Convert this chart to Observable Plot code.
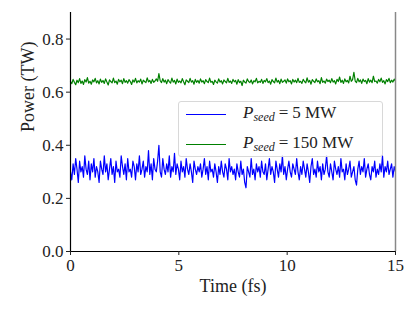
<!DOCTYPE html>
<html><head><meta charset="utf-8">
<script src="https://cdn.jsdelivr.net/npm/d3@7"></script>
<script src="https://cdn.jsdelivr.net/npm/@observablehq/plot@0.6"></script>
<style>
body{margin:0;background:#fff;}
#wrap{position:relative;width:415px;height:316px;font-family:"Liberation Serif",serif;}
#legend{position:absolute;left:178px;top:101px;width:205px;height:56px;box-sizing:border-box;border:1px solid #d8d8d8;border-radius:3px;background:rgba(255,255,255,0.8);font-size:17px;color:#222;}
.row{position:absolute;left:0;height:20px;display:flex;align-items:center;}
.sw{display:inline-block;width:40px;height:0;border-top:1px solid;margin-left:7px;margin-right:17px;}
sub{font-size:12px;vertical-align:-3px;}
.eq{margin:0 4px;}
</style></head>
<body><div id="wrap"><div id="plot"></div>
<div id="legend">
<div class="row" style="top:2px"><span class="sw" style="border-color:#0000ff"></span><span><i>P</i><sub><i>seed</i></sub><span class="eq">=</span>5 MW</span></div>
<div class="row" style="top:32px"><span class="sw" style="border-color:#008000"></span><span><i>P</i><sub><i>seed</i></sub><span class="eq">=</span>150 MW</span></div>
</div></div>
<script>
const timeStart = 0, timeStep = 0.06;
const xTicks = [0, 5, 10, 15];
const yTicks = [0, 0.2, 0.4, 0.6, 0.8];
const power5MW = [
.30,.27,.33,.29,.35,.31,.26,.34,.30,.32,.28,.36,.31,.29,.34,.27,.33,.30,.35,.28,.32,.30,.26,.34,.31,
.29,.36,.30,.33,.27,.31,.35,.29,.32,.26,.34,.30,.31,.28,.36,.32,.29,.33,.27,.35,.30,.31,.28,.34,.32,
.27,.33,.30,.36,.29,.31,.34,.28,.32,.30,.38,.29,.33,.27,.35,.31,.30,.34,.40,.30,.28,.35,.31,.29,.33,
.30,.36,.28,.32,.30,.37,.29,.33,.31,.27,.34,.30,.32,.28,.35,.31,.29,.33,.30,.26,.34,.31,.29,.32,.30,
.33,.28,.31,.35,.29,.32,.27,.34,.30,.31,.28,.33,.30,.26,.32,.29,.34,.30,.28,.33,.31,.27,.35,.30,.32,
.29,.31,.27,.33,.30,.28,.34,.29,.31,.26,.24,.32,.30,.28,.35,.29,.31,.27,.33,.30,.32,.28,.34,.30,.29,
.33,.27,.31,.35,.29,.32,.30,.26,.34,.31,.28,.33,.30,.36,.29,.32,.27,.31,.34,.30,.28,.33,.31,.29,.35,
.30,.27,.32,.29,.34,.31,.28,.33,.30,.26,.32,.35,.29,.31,.28,.34,.30,.32,.27,.33,.29,.31,.36,.30,.28,
.33,.30,.27,.34,.31,.29,.32,.28,.35,.30,.31,.27,.33,.29,.31,.34,.28,.30,.32,.27,.25,.31,.34,.29,.32,
.30,.35,.28,.31,.33,.29,.27,.32,.30,.34,.28,.31,.29,.33,.30,.36,.28,.32,.30,.34,.29,.31,.33,.28,.32,.30];
const power150MW = [
.640,.632,.648,.637,.628,.645,.636,.651,.633,.642,.629,.647,.638,.655,.634,.641,.630,.646,.639,.652,.635,.643,.631,.649,.637,
.644,.633,.650,.638,.627,.646,.640,.635,.653,.636,.642,.630,.648,.639,.645,.632,.651,.637,.643,.634,.647,.640,.629,.646,.638,
.652,.635,.643,.638,.649,.631,.645,.640,.636,.654,.639,.644,.633,.648,.637,.642,.650,.641,.670,.643,.636,.651,.638,.645,.632,
.647,.640,.634,.653,.638,.644,.631,.649,.637,.642,.635,.651,.639,.628,.646,.641,.636,.652,.638,.643,.630,.648,.637,.644,.634,
.650,.638,.643,.632,.647,.640,.636,.653,.637,.641,.629,.645,.639,.634,.650,.638,.643,.631,.646,.640,.635,.652,.637,.642,.633,
.648,.639,.644,.630,.647,.636,.641,.625,.645,.638,.634,.650,.640,.636,.646,.631,.643,.639,.652,.635,.641,.637,.648,.633,.644,
.639,.651,.636,.642,.630,.647,.640,.635,.653,.638,.644,.632,.649,.637,.641,.646,.634,.650,.639,.643,.631,.648,.638,.645,.636,
.652,.637,.641,.633,.648,.640,.635,.654,.638,.644,.630,.647,.641,.636,.650,.639,.643,.632,.655,.637,.642,.634,.649,.640,.645,
.636,.651,.638,.643,.631,.648,.640,.657,.637,.645,.633,.650,.639,.644,.635,.660,.641,.647,.675,.642,.636,.652,.639,.646,.633,
.649,.640,.644,.632,.651,.638,.645,.636,.660,.640,.642,.634,.648,.639,.653,.637,.643,.631,.647,.640,.652,.636,.645,.638,.649,.641];

const s5 = power5MW.map((p, i) => ({t: timeStart + i * timeStep, p}));
const s150 = power150MW.map((p, i) => ({t: timeStart + i * timeStep, p}));

const chart = Plot.plot({
  width: 415, height: 316,
  marginLeft: 70, marginRight: 20, marginTop: 12, marginBottom: 65,
  style: {fontFamily: "'Liberation Serif', serif", fontSize: "17px", color: "#222", background: "transparent"},
  x: {domain: [0, 15]},
  y: {domain: [0, 0.9]},
  marks: [
    Plot.line(s5, {x: "t", y: "p", stroke: "#0000ff", strokeWidth: 1.2}),
    Plot.line(s150, {x: "t", y: "p", stroke: "#008000", strokeWidth: 1.2}),
    Plot.ruleX([15], {stroke: "#888", strokeWidth: 1.5}),
    Plot.ruleX([0], {stroke: "#000", strokeWidth: 1.2}),
    Plot.ruleY([0], {stroke: "#000", strokeWidth: 1.2}),
    Plot.axisX({ticks: xTicks, tickSize: 4, tickPadding: 3, fontSize: 17, label: null, tickFormat: d3.format("d")}),
    Plot.axisY({ticks: yTicks, tickSize: 4, tickPadding: 3, fontSize: 17, label: null, tickFormat: d3.format(".1f")}),
    Plot.text(["Time (fs)"], {frameAnchor: "bottom", dy: 40, fontSize: 18, fill: "#222"}),
    Plot.text(["Power (TW)"], {frameAnchor: "left", dx: -42, rotate: -90, fontSize: 18, fill: "#222"})
  ]
});
document.getElementById("plot").appendChild(chart);
</script></body></html>
